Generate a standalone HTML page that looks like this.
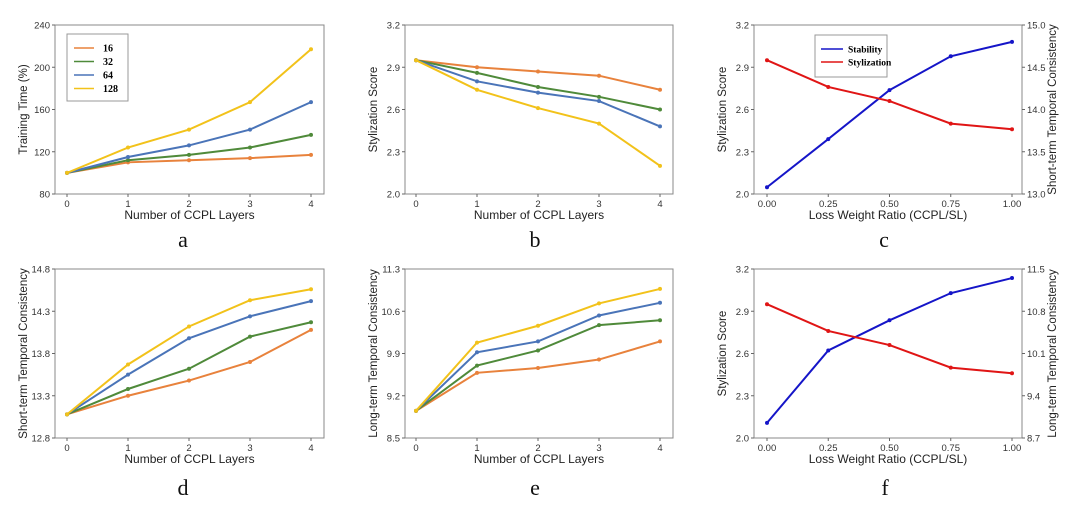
<!DOCTYPE html>
<html><head><meta charset="utf-8"><style>
body{margin:0;background:#fff;width:1080px;height:507px;overflow:hidden}
svg{font-family:"Liberation Sans",sans-serif}
</style></head><body>
<svg id="s" width="1080" height="507"></svg>
<script>
const xLayers=[0,1,2,3,4];
const xRatio=[0,0.25,0.5,0.75,1.0];
const xRatioLabels=["0.00","0.25","0.50","0.75","1.00"];
const seriesNames=["16","32","64","128"];
const colors4=["#e8823c","#4f8a3a","#4a74b8","#f2c21a"];
const aVals=[[100,110,112,114,117],[100,112,117,124,136],[100,115,126,141,167],[100,124,141,167,217]];
const aTicks=[80,120,160,200,240];
const bVals=[[2.95,2.90,2.87,2.84,2.74],[2.95,2.86,2.76,2.69,2.60],[2.95,2.80,2.72,2.66,2.48],[2.95,2.74,2.61,2.50,2.20]];
const bTicks=[2.0,2.3,2.6,2.9,3.2];
const cStab=[13.08,13.65,14.23,14.63,14.80];
const cStyl=[2.95,2.76,2.66,2.50,2.46];
const cRight=[13.0,13.5,14.0,14.5,15.0];
const dVals=[[13.08,13.30,13.48,13.70,14.08],[13.08,13.38,13.62,14.00,14.17],[13.08,13.55,13.98,14.24,14.42],[13.08,13.67,14.12,14.43,14.56]];
const dTicks=[12.8,13.3,13.8,14.3,14.8];
const eVals=[[8.95,9.58,9.66,9.80,10.10],[8.95,9.70,9.95,10.37,10.45],[8.95,9.92,10.10,10.53,10.74],[8.95,10.08,10.36,10.73,10.97]];
const eTicks=[8.5,9.2,9.9,10.6,11.3];
const fStab=[8.95,10.15,10.65,11.10,11.35];
const fStyl=[2.95,2.76,2.66,2.50,2.46];
const fRight=[8.7,9.4,10.1,10.8,11.5];

const S=document.getElementById('s');
const NS="http://www.w3.org/2000/svg";
function mk(tag,at,parent){const e=document.createElementNS(NS,tag);for(const k in at)e.setAttribute(k,at[k]);(parent||S).appendChild(e);return e;}

function panel(o){
  const g=mk('g',{});
  
  
  const L=o.L,R=o.R,T=o.T,B=o.B;
  const xs=v=>o.x0+(v-o.xd[0])/(o.xd[1]-o.xd[0])*(o.x1-o.x0);
  const ys=(v,t)=>B-(v-t[0])/(t[t.length-1]-t[0])*(B-T);
  mk('rect',{x:L,y:T,width:R-L,height:B-T,fill:'none',stroke:'#888','stroke-width':1},g);
  o.xv.forEach((v,i)=>{const x=xs(v);mk('line',{x1:x,x2:x,y1:B,y2:B+3,stroke:'#666'},g);
    const t=mk('text',{x:x,y:B+13,'font-size':9.5,'text-anchor':'middle',fill:'#333'},g);t.textContent=o.xl[i];});
  o.ticks.forEach(v=>{const y=ys(v,o.ticks);mk('line',{x1:L-3,x2:L,y1:y,y2:y,stroke:'#666'},g);
    const t=mk('text',{x:L-5,y:y+3.5,'font-size':9.5,'text-anchor':'end',fill:'#333'},g);t.textContent=o.tfmt(v);});
  if(o.rticks){o.rticks.forEach(v=>{const y=ys(v,o.rticks);mk('line',{x1:R,x2:R+3,y1:y,y2:y,stroke:'#666'},g);
    const t=mk('text',{x:R+5,y:y+3.5,'font-size':9.5,fill:'#333'},g);t.textContent=v.toFixed(1);});
    const rt=mk('text',{x:R+34,y:(T+B)/2,'font-size':11.5,'text-anchor':'middle',fill:'#222',transform:`rotate(-90 ${R+34} ${(T+B)/2})`},g);rt.textContent=o.rlabel;}
  const xt=mk('text',{x:(L+R)/2,y:B+25,'font-size':12,'text-anchor':'middle',fill:'#222'},g);xt.textContent=o.xlabel;
  const yl=mk('text',{x:L-28,y:(T+B)/2,'font-size':11.5,'text-anchor':'middle',fill:'#222',transform:`rotate(-90 ${L-28} ${(T+B)/2})`},g);yl.textContent=o.ylabel;
  o.series.forEach(s=>{
    const pts=s.vals.map((v,i)=>[xs(o.xv[i]),ys(v,s.axis)]);
    const p=mk('polyline',{points:pts.map(p=>p.join(',')).join(' '),fill:'none',stroke:s.color,'stroke-width':2},g);
    
    
    pts.forEach(pt=>{const c=mk('circle',{cx:pt[0],cy:pt[1],r:2,fill:s.color},g);
      
      });
  });
  const lab=mk('text',{x:o.lx,y:o.ly,'font-size':22,'text-anchor':'middle','font-family':'Liberation Serif,serif',fill:'#111'},g);lab.textContent=o.letter;
  return g;
}
const f1=v=>v.toFixed(1), f0=v=>String(v);
const top1=25,bot1=194,top2=269,bot2=438;
const leftCols=[{L:55,R:324,x0:67,x1:311},{L:405,R:673,x0:416,x1:660},{L:754,R:1022,x0:767,x1:1012}];
function multi(vals,ticks){return vals.map((v,i)=>({name:'series-'+seriesNames[i],vals:v,color:colors4[i],axis:ticks}));}

panel(Object.assign({name:'panel-a',T:top1,B:bot1,xd:[0,4],xv:xLayers,xl:xLayers.map(String),ticks:aTicks,tfmt:f0,xlabel:'Number of CCPL Layers',ylabel:'Training Time (%)',series:multi(aVals,aTicks),letter:'a',lx:183,ly:247},leftCols[0]));
panel(Object.assign({name:'panel-b',T:top1,B:bot1,xd:[0,4],xv:xLayers,xl:xLayers.map(String),ticks:bTicks,tfmt:f1,xlabel:'Number of CCPL Layers',ylabel:'Stylization Score',series:multi(bVals,bTicks),letter:'b',lx:535,ly:247},leftCols[1]));
panel(Object.assign({name:'panel-c',T:top1,B:bot1,xd:[0,1],xv:xRatio,xl:xRatioLabels,ticks:bTicks,tfmt:f1,rticks:cRight,rlabel:'Short-term Temporal Consistency',xlabel:'Loss Weight Ratio (CCPL/SL)',ylabel:'Stylization Score',
  series:[{name:'stability',vals:cStab,color:'#1515c8',axis:cRight},{name:'stylization',vals:cStyl,color:'#e01515',axis:bTicks}],letter:'c',lx:884,ly:247},leftCols[2]));
panel(Object.assign({name:'panel-d',T:top2,B:bot2,xd:[0,4],xv:xLayers,xl:xLayers.map(String),ticks:dTicks,tfmt:f1,xlabel:'Number of CCPL Layers',ylabel:'Short-term Temporal Consistency',series:multi(dVals,dTicks),letter:'d',lx:183,ly:495},leftCols[0]));
panel(Object.assign({name:'panel-e',T:top2,B:bot2,xd:[0,4],xv:xLayers,xl:xLayers.map(String),ticks:eTicks,tfmt:f1,xlabel:'Number of CCPL Layers',ylabel:'Long-term Temporal Consistency',series:multi(eVals,eTicks),letter:'e',lx:535,ly:495},leftCols[1]));
panel(Object.assign({name:'panel-f',T:top2,B:bot2,xd:[0,1],xv:xRatio,xl:xRatioLabels,ticks:bTicks,tfmt:f1,rticks:fRight,rlabel:'Long-term Temporal Consistency',xlabel:'Loss Weight Ratio (CCPL/SL)',ylabel:'Stylization Score',
  series:[{name:'stability',vals:fStab,color:'#1515c8',axis:fRight},{name:'stylization',vals:fStyl,color:'#e01515',axis:bTicks}],letter:'f',lx:885,ly:495},leftCols[2]));

const lg=mk('g',{});


mk('rect',{x:67,y:34,width:61,height:67,fill:'#fff',stroke:'#999'},lg);
seriesNames.forEach((n,i)=>{const y=48+i*13.5;
  mk('line',{x1:74,x2:94,y1:y,y2:y,stroke:colors4[i],'stroke-width':1.5},lg);
  const t=mk('text',{x:103,y:y+3.5,'font-size':10,'font-weight':'bold','font-family':'Liberation Serif,serif'},lg);t.textContent=n;});
const lc=mk('g',{});


mk('rect',{x:815,y:35,width:72,height:42,fill:'#fff',stroke:'#999'},lc);
[['Stability','#1515c8'],['Stylization','#e01515']].forEach((e,i)=>{const y=49+i*13;
  mk('line',{x1:821,x2:843,y1:y,y2:y,stroke:e[1],'stroke-width':1.5},lc);
  const t=mk('text',{x:848,y:y+3.5,'font-size':9.5,'font-weight':'bold','font-family':'Liberation Serif,serif'},lc);t.textContent=e[0];});
</script>
</body></html>
